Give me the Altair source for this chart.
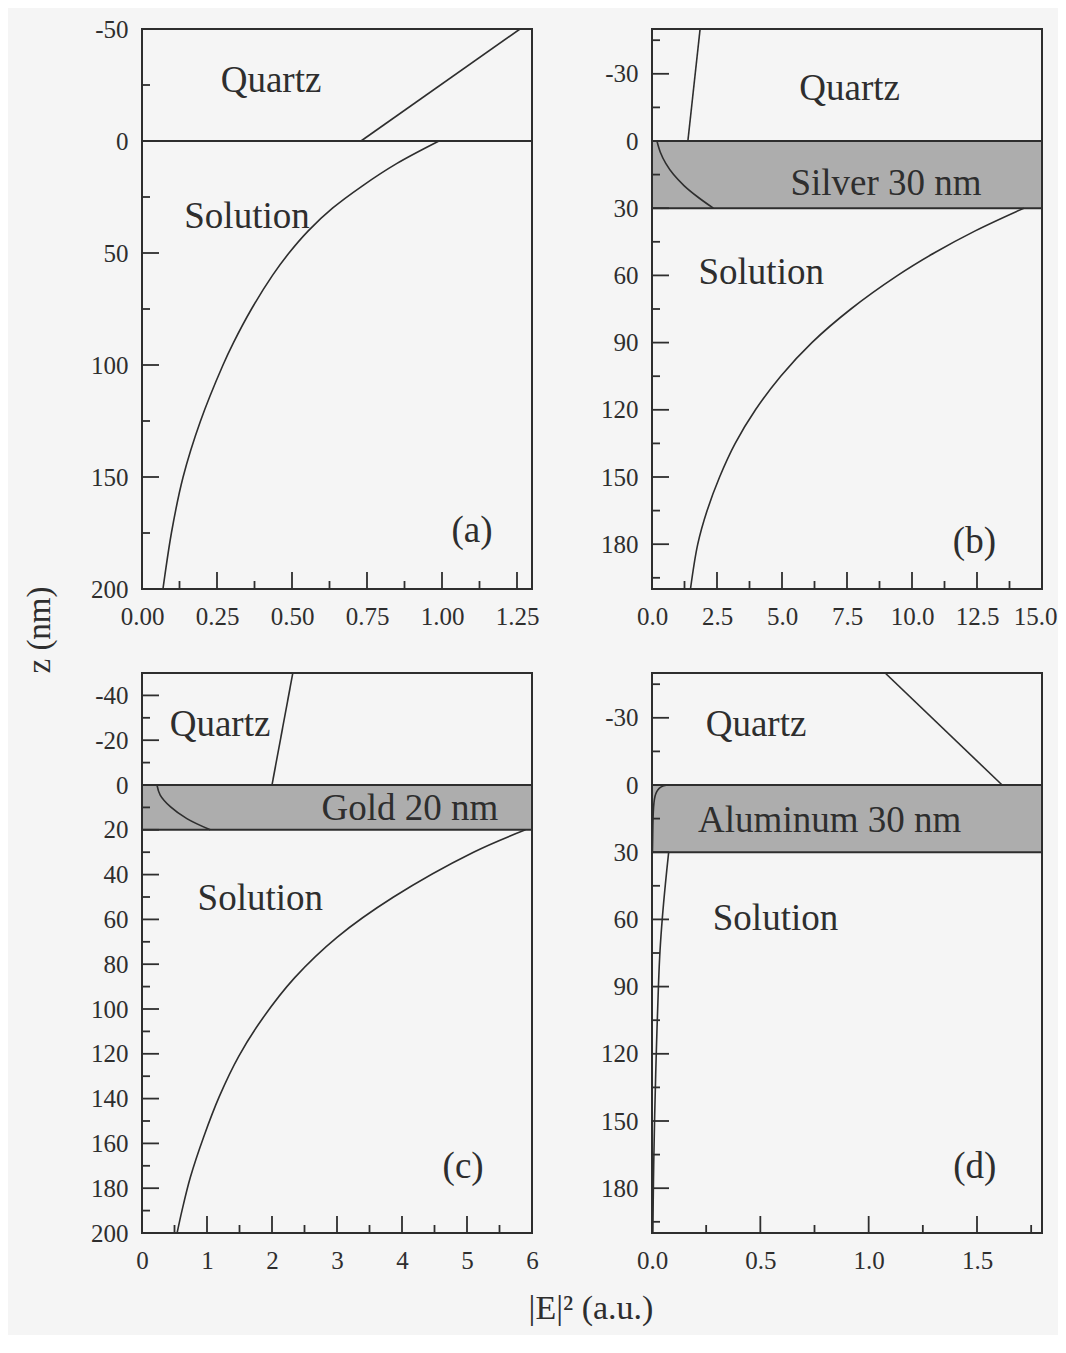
import altair as alt
import pandas as pd

FONT = "Liberation Serif"
INK = "#2e2e2e"
METAL = "#adadad"
W, H = 390, 560

# ---------------- Panel (a): bare quartz / solution ----------------
a_xmax = 1.3
a_x_major = [0, 0.25, 0.5, 0.75, 1.0, 1.25]
a_x_minor = [0.125, 0.375, 0.625, 0.875, 1.125]
a_y_major = [-50, 0, 50, 100, 150, 200]
a_y_minor = [-25, 25, 75, 125, 175]
a_quartz_z = [-50, 0]
a_quartz_e = [1.26, 0.73]
a_sol_z = [0, 10, 20, 30, 40, 50, 60, 75, 90, 100, 125, 150, 175, 200]
a_sol_e = [0.99, 0.85, 0.735, 0.635, 0.555, 0.49, 0.435, 0.365, 0.305, 0.27, 0.195, 0.137, 0.098, 0.07]

# ---------------- Panel (b): silver 30 nm ----------------
b_xmax = 15
b_x_major = [0, 2.5, 5, 7.5, 10, 12.5, 15]
b_x_minor = [1.25, 3.75, 6.25, 8.75, 11.25, 13.75]
b_y_major = [-30, 0, 30, 60, 90, 120, 150, 180]
b_y_minor = [-45, -15, 15, 45, 75, 105, 135, 165, 195]
b_layer = 30
b_quartz_z = [-50, 0]
b_quartz_e = [1.85, 1.38]
b_metal_z = [0, 5, 10, 15, 20, 25, 30]
b_metal_e = [0.19, 0.32, 0.53, 0.83, 1.24, 1.76, 2.36]
b_sol_z = [30, 40, 50, 60, 75, 90, 105, 120, 135, 150, 165, 180, 200]
b_sol_e = [14.3, 12.45, 10.85, 9.45, 7.65, 6.15, 4.95, 3.98, 3.2, 2.6, 2.12, 1.76, 1.48]

# ---------------- Panel (c): gold 20 nm ----------------
c_xmax = 6
c_x_major = [0, 1, 2, 3, 4, 5, 6]
c_x_minor = [0.5, 1.5, 2.5, 3.5, 4.5, 5.5]
c_y_major = [-40, -20, 0, 20, 40, 60, 80, 100, 120, 140, 160, 180, 200]
c_y_minor = [-30, -10, 10, 30, 50, 70, 90, 110, 130, 150, 170, 190]
c_layer = 20
c_quartz_z = [-50, 0]
c_quartz_e = [2.32, 2.0]
c_metal_z = [0, 4.5, 9.8, 15, 20]
c_metal_e = [0.23, 0.28, 0.44, 0.69, 1.05]
c_sol_z = [20, 30, 50, 68, 86, 104, 121, 139, 157, 175, 190, 200]
c_sol_e = [5.9, 5.1, 3.87, 3.0, 2.35, 1.86, 1.49, 1.19, 0.95, 0.745, 0.615, 0.54]

# ---------------- Panel (d): aluminum 30 nm ----------------
d_xmax = 1.8
d_x_major = [0, 0.5, 1.0, 1.5]
d_x_minor = [0.25, 0.75, 1.25, 1.75]
d_y_major = [-30, 0, 30, 60, 90, 120, 150, 180]
d_y_minor = [-45, -15, 15, 45, 75, 105, 135, 165, 195]
d_layer = 30
d_quartz_z = [-50, 0]
d_quartz_e = [1.076, 1.616]
d_metal_z = [0, 0.5, 1.5, 3, 5, 8, 12, 18, 24, 30]
d_metal_e = [0.073, 0.05, 0.033, 0.022, 0.014, 0.009, 0.006, 0.004, 0.003, 0.002]
d_sol_z = [30, 44, 59, 74, 89, 119, 149, 175, 200]
d_sol_e = [0.077, 0.062, 0.048, 0.037, 0.03, 0.02, 0.012, 0.007, 0.004]

# annotations: (x value, z value, text)
a_notes = [(0.43, -27, "Quartz"), (0.35, 34, "Solution"), (1.10, 174, "(a)")]
b_notes = [(7.6, -23, "Quartz"), (9.0, 19, "Silver 30 nm"), (4.2, 59, "Solution"), (12.4, 179, "(b)")]
c_notes = [(1.2, -27, "Quartz"), (4.12, 10.5, "Gold 20 nm"), (1.82, 51, "Solution"), (4.94, 170.5, "(c)")]
d_notes = [(0.48, -27, "Quartz"), (0.82, 16, "Aluminum 30 nm"), (0.57, 60, "Solution"), (1.49, 170.5, "(d)")]

Y_TITLE = "z (nm)"
X_TITLE = "|E|\u00b2 (a.u.)"


def panel(xmax, xfmt, xmaj, xmin, ymaj, ymin, segs, notes, layer=None, titles=False):
    xs = alt.Scale(domain=[0, xmax], nice=False, zero=False)
    ys = alt.Scale(domain=[-50, 200], reverse=True, nice=False, zero=False)
    xaxis = alt.Axis(values=xmaj, format=xfmt, title=None, ticks=False, domain=False,
                     grid=False, labelFont=FONT, labelFontSize=25, labelColor=INK,
                     labelPadding=15, labelFlush=False, labelOverlap=False,
                     labelOffset={"condition": {"test": "datum.value == 15", "value": -7},
                                  "value": 0})
    yaxis = alt.Axis(values=ymaj, labelExpr="'' + datum.value", title=None, ticks=False,
                     domain=False, grid=False, labelFont=FONT, labelFontSize=25,
                     labelColor=INK, labelPadding=14, labelFlush=False, labelOverlap=False)

    def X(f):
        return alt.X(f, type="quantitative", scale=xs, axis=xaxis)

    def Y(f):
        return alt.Y(f, type="quantitative", scale=ys, axis=yaxis)

    layers = []
    if layer is not None:
        rect_df = pd.DataFrame({"x0": [0], "x1": [xmax], "z0": [0], "z1": [layer]})
        layers.append(
            alt.Chart(rect_df).mark_rect(fill=METAL, stroke=INK, strokeWidth=2).encode(
                x=X("x0"), x2="x1", y=Y("z0"), y2="z1"))
    else:
        line_df = pd.DataFrame({"x0": [0], "x1": [xmax], "z0": [0]})
        layers.append(
            alt.Chart(line_df).mark_rule(color=INK, strokeWidth=2).encode(
                x=X("x0"), x2="x1", y=Y("z0")))

    rows = []
    for name, zs, es in segs:
        for i, (z, e) in enumerate(zip(zs, es)):
            rows.append({"seg": name, "ord": i, "z": z, "e": e})
    curve_df = pd.DataFrame(rows)
    layers.append(
        alt.Chart(curve_df).mark_line(color=INK, strokeWidth=1.6, interpolate="catmull-rom",
                                      clip=True).encode(
            x=X("e"), y=Y("z"), detail="seg:N", order="ord:Q"))

    # inward ticks
    layers.append(alt.Chart(pd.DataFrame({"v": ymaj})).mark_rule(color=INK, strokeWidth=1.8).encode(
        y=Y("v"), x=alt.value(0), x2=alt.value(17)))
    layers.append(alt.Chart(pd.DataFrame({"v": ymin})).mark_rule(color=INK, strokeWidth=1.8).encode(
        y=Y("v"), x=alt.value(0), x2=alt.value(8)))
    layers.append(alt.Chart(pd.DataFrame({"v": xmaj})).mark_rule(color=INK, strokeWidth=1.8).encode(
        x=X("v"), y=alt.value(H), y2=alt.value(H - 17)))
    layers.append(alt.Chart(pd.DataFrame({"v": xmin})).mark_rule(color=INK, strokeWidth=1.8).encode(
        x=X("v"), y=alt.value(H), y2=alt.value(H - 8)))

    note_df = pd.DataFrame(notes, columns=["x", "z", "t"])
    layers.append(
        alt.Chart(note_df).mark_text(font=FONT, fontSize=37, color=INK, align="center",
                                     baseline="middle").encode(
            x=X("x"), y=Y("z"), text="t:N"))

    if titles:
        layers.append(
            alt.Chart(pd.DataFrame({"t": [Y_TITLE]})).mark_text(
                font=FONT, fontSize=33, color=INK, angle=270, align="center",
                baseline="middle").encode(x=alt.value(-102), y=alt.value(-43), text="t:N"))
        layers.append(
            alt.Chart(pd.DataFrame({"t": [X_TITLE]})).mark_text(
                font=FONT, fontSize=34, color=INK, align="center",
                baseline="middle").encode(x=alt.value(449), y=alt.value(636), text="t:N"))

    return alt.layer(*layers).properties(width=W, height=H)


pa = panel(a_xmax, ".2f", a_x_major, a_x_minor, a_y_major, a_y_minor,
           [("quartz", a_quartz_z, a_quartz_e), ("solution", a_sol_z, a_sol_e)], a_notes)
pb = panel(b_xmax, ".1f", b_x_major, b_x_minor, b_y_major, b_y_minor,
           [("quartz", b_quartz_z, b_quartz_e), ("metal", b_metal_z, b_metal_e),
            ("solution", b_sol_z, b_sol_e)], b_notes, layer=b_layer)
pc = panel(c_xmax, "d", c_x_major, c_x_minor, c_y_major, c_y_minor,
           [("quartz", c_quartz_z, c_quartz_e), ("metal", c_metal_z, c_metal_e),
            ("solution", c_sol_z, c_sol_e)], c_notes, layer=c_layer, titles=True)
pd_ = panel(d_xmax, ".1f", d_x_major, d_x_minor, d_y_major, d_y_minor,
            [("quartz", d_quartz_z, d_quartz_e), ("metal", d_metal_z, d_metal_e),
             ("solution", d_sol_z, d_sol_e)], d_notes, layer=d_layer)

chart = alt.concat(pa, pb, pc, pd_, columns=2,
                   spacing=alt.RowColnumber(row=84, column=120),
                   bounds="flush").properties(
    padding={"left": 15, "top": 8, "right": 0, "bottom": 8},
    background="#f5f5f5",
).configure_view(stroke=INK, strokeWidth=2)

chart.save("out.html", embed_options={"renderer": "svg", "actions": False})
